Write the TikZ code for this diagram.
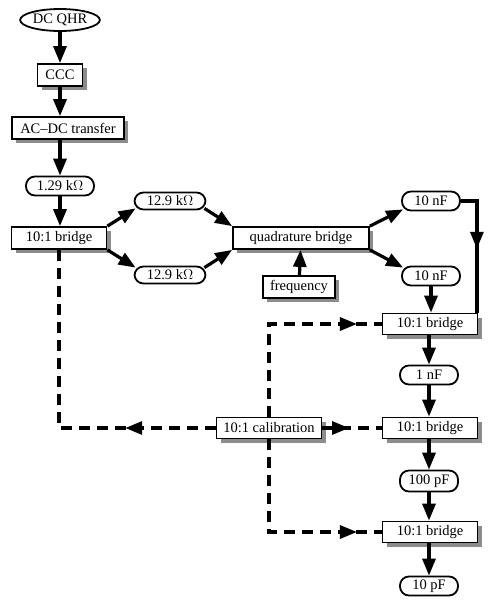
\documentclass[tikz,border=0pt]{standalone}
\usepackage{fontspec}
\setmainfont{Liberation Serif}
\usetikzlibrary{arrows.meta,shapes.geometric,shadows,decorations.markings}
\tikzset{
  kasten/.style   = {draw, line width=1.8pt, fill=white, inner sep=2pt, minimum height=22pt,
                     drop shadow={shadow xshift=4pt, shadow yshift=-4pt, fill=black!45, opacity=1}},
  oval/.style     = {draw, line width=1.8pt, fill=white, rounded corners=9pt, inner sep=2pt,
                     minimum height=19pt},
  pfeil/.style    = {-{Triangle[length=17pt,width=13pt]}, line width=3.2pt},
  mitte/.style    = {line width=3.2pt, postaction={decorate},
                     decoration={markings, mark=at position #1 with
                       {\arrow{Triangle[length=17pt,width=13pt]}}}},
  gestrichelt/.style = {mitte=#1, dash pattern=on 11pt off 7pt}
}

\begin{document}
\begin{tikzpicture}[x=1pt, y=-1pt, font=\fontsize{14.5}{16}\selectfont]
    \useasboundingbox (0,0) rectangle (498,606);

    % linke Spalte
    \node[draw, ellipse, line width=1.8pt, inner sep=1pt, minimum width=70pt, minimum height=22pt]
        (qhr) at (60,20) {DC QHR};
    \node[kasten, minimum width=45pt] (ccc) at (60,75) {CCC};
    \node[kasten, minimum width=112pt] (acdc) at (68,128) {AC--DC transfer};
    \node[oval, minimum width=68pt] (r129) at (60,186) {1.29 k$\Omega$};
    \node[kasten, minimum width=95pt] (lbr) at (59,238) {10:1 bridge};

    % Mitte
    \node[oval, minimum width=71pt, minimum height=17pt] (robo) at (170,201) {12.9 k$\Omega$};
    \node[oval, minimum width=71pt, minimum height=17pt] (runt) at (170,275) {12.9 k$\Omega$};
    \node[kasten, minimum width=136pt] (quad) at (301,238) {quadrature bridge};
    \node[kasten, minimum width=72pt] (freq) at (299,287) {frequency};
    \node[kasten, minimum width=105pt, minimum height=21pt] (kal) at (269,428) {10:1 calibration};

    % rechte Spalte
    \node[oval, minimum width=58pt] (cobo) at (431,201) {10 nF};
    \node[oval, minimum width=58pt] (cunt) at (431,276) {10 nF};
    \node[kasten, minimum width=95pt, minimum height=21pt] (br1) at (430,324) {10:1 bridge};
    \node[oval, minimum width=58pt] (c1n) at (429,375) {1 nF};
    \node[kasten, minimum width=95pt, minimum height=21pt] (br2) at (430,428) {10:1 bridge};
    \node[oval, minimum width=58pt, minimum height=21pt] (c100) at (429,481) {100 pF};
    \node[kasten, minimum width=95pt, minimum height=21pt] (br3) at (430,532) {10:1 bridge};
    \node[oval, minimum width=58pt] (c10) at (429,586) {10 pF};

    \draw[pfeil] (qhr) -- (ccc);
    \draw[pfeil] (ccc) -- (acdc.north -| ccc);
    \draw[pfeil] (acdc.south -| r129) -- (r129);
    \draw[pfeil] (r129) -- (lbr.north -| r129);

    \draw[pfeil] (lbr.north east) -- ([shift={(2pt,2pt)}]robo.south west);
    \draw[pfeil] (lbr.south east) -- ([shift={(2pt,-2pt)}]runt.north west);
    \draw[pfeil] ([shift={(-2pt,2pt)}]robo.south east) -- (quad.north west);
    \draw[pfeil] ([shift={(-2pt,-2pt)}]runt.north east) -- (quad.south west);
    \draw[pfeil] (quad.north east) -- ([shift={(2pt,2pt)}]cobo.south west);
    \draw[pfeil] (quad.south east) -- ([shift={(2pt,-2pt)}]cunt.north west);
    \draw[pfeil] (freq) -- (quad);

    \draw[mitte=0.5] (cobo.east) -| ([xshift=-1.5pt]br1.north east);
    \draw[pfeil] (cunt) -- (br1.north -| cunt);
    \draw[pfeil] (br1.south -| c1n) -- (c1n);
    \draw[pfeil] (c1n) -- (br2.north -| c1n);
    \draw[pfeil] (br2.south -| c100) -- (c100);
    \draw[pfeil] (c100) -- (br3.north -| c100);
    \draw[pfeil] (br3.south -| c10) -- (c10);

    \draw[gestrichelt=0.27] (kal.west) -| (lbr.south);
    \draw[gestrichelt=0.88] (kal.north) |- (br1.west);
    \draw[gestrichelt=0.45] (kal.east) -- (br2.west);
    \draw[gestrichelt=0.88] (kal.south) |- (br3.west);
\end{tikzpicture}
\end{document}
